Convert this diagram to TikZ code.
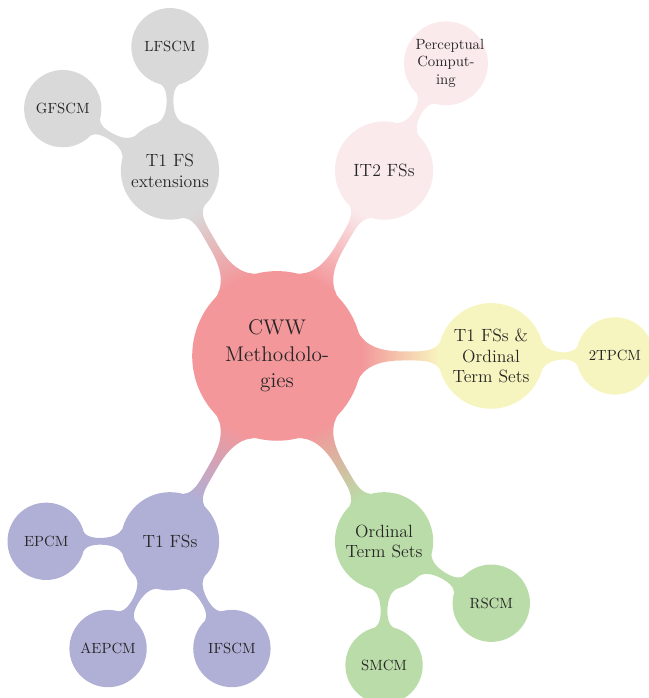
\documentclass[tikz,border=0pt]{standalone}
\usetikzlibrary{mindmap,backgrounds}

\hyphenation{Methodolo-gies Comput-ing}

\definecolor{cwwred}{RGB}{243,151,154}
\definecolor{extgrey}{RGB}{217,217,217}
\definecolor{itpink}{RGB}{250,234,236}
\definecolor{mixyellow}{RGB}{247,245,191}
\definecolor{ordgreen}{RGB}{186,220,168}
\definecolor{tfsblue}{RGB}{176,175,214}

\begin{document}
\begin{tikzpicture}[
    mindmap,
    % --- Styles ---
    root node/.style={concept, concept color=cwwred, text=black!85, align=center, minimum size=4cm, text width=2.9cm, font=\Large},
    branch node/.style={concept, text=black!85, align=center, minimum size=2.3cm, text width=2cm, font=\large},
    leaf node/.style={concept, text=black!85, align=center, minimum size=1.8cm, text width=1.45cm, font=\normalsize},
    % Gradient bar joining two circles
    linkbar/.style 2 args={circle connection bar switch color=from (#1) to (#2)}
]

%================CONFIGURATION================
\def\levelone{5.1cm}
\def\leveltwo{2.95cm}
%=============================================

\useasboundingbox (-6.6,-8.15) rectangle (8.85,8.48);

% --- 1. Root ---
\node[root node] (cww) {CWW Methodologies};

% --- 2. First level (name/angle/colour/text) ---
\foreach \name/\ang/\col/\txt in {
    ext/120/extgrey/T1 FS extensions,
    itfs/60/itpink/IT2 FSs,
    mixed/0/mixyellow/T1 FSs \& Ordinal Term Sets,
    ots/-60/ordgreen/Ordinal Term Sets,
    tfs/-120/tfsblue/T1 FSs} {
    \node[branch node, concept color=\col] (\name) at ([shift={(\ang:\levelone)}]cww) {\txt};
    \begin{scope}[on background layer]
        \path (cww) to[linkbar={cwwred}{\col}] (\name);
    \end{scope}
}

% --- 3. Second level (parent/name/angle/colour/text) ---
\foreach \parent/\name/\ang/\col/\txt in {
    ext/lfscm/90/extgrey/LFSCM,
    ext/gfscm/150/extgrey/GFSCM,
    itfs/percomp/60/itpink/Perceptual Computing,
    mixed/tpcm/0/mixyellow/2TPCM,
    ots/smcm/-90/ordgreen/SMCM,
    ots/rscm/-30/ordgreen/RSCM,
    tfs/epcm/180/tfsblue/EPCM,
    tfs/aepcm/-120/tfsblue/AEPCM,
    tfs/ifscm/-60/tfsblue/IFSCM} {
    \node[leaf node, concept color=\col] (\name) at ([shift={(\ang:\leveltwo)}]\parent) {\txt};
    \begin{scope}[on background layer]
        \path (\parent) to[linkbar={\col}{\col}] (\name);
    \end{scope}
}

\end{tikzpicture}
\end{document}
